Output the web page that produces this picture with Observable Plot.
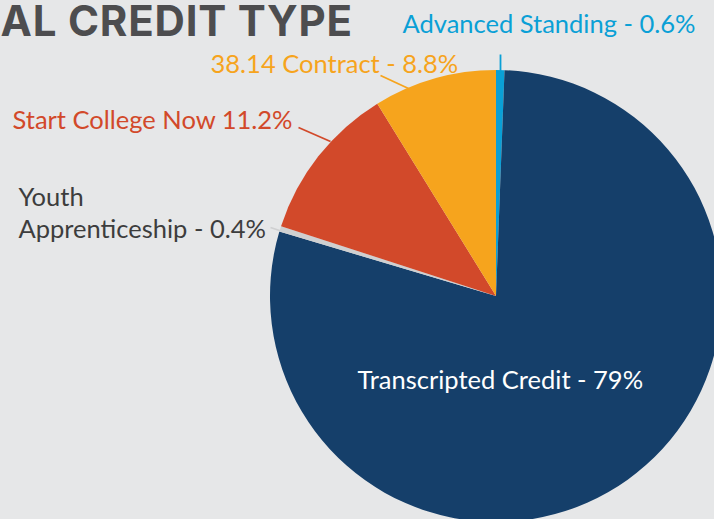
<!DOCTYPE html>
<html><head><meta charset="utf-8">
<script src="https://cdn.jsdelivr.net/npm/d3@7"></script>
<script src="https://cdn.jsdelivr.net/npm/@observablehq/plot@0.6"></script>
<style>html,body{margin:0;padding:0;background:#e6e7e8;overflow:hidden}</style>
</head><body><div id="chart"></div>
<script>
// ---- data ----
const categories = ["Advanced Standing", "Transcripted Credit", "Youth Apprenticeship", "Start College Now", "38.14 Contract"];
const shares = [0.6, 79, 0.4, 11.2, 8.8];
const labelTexts = ["Advanced Standing - 0.6%", "Transcripted Credit - 79%", "Youth\nApprenticeship - 0.4%", "Start College Now 11.2%", "38.14 Contract - 8.8%"];
const titleText = "AL CREDIT TYPE";

// ---- style / layout ----
const sliceColors = ["#0aa0d6", "#153f6a", "#cfd0d1", "#d2492a", "#f6a41d"];
const labelColors = ["#0aa0d6", "#ffffff", "#3d3d3d", "#d2492a", "#f6a41d"];
const W = 714, H = 519;
const center = [496, 296], radius = 226;
const labelPos = [[402, 32], [357, 388], [18, 237], [12, 128], [210, 72]];
const leaderPos = [[500, 54, 500, 71], null, [270, 227, 282, 231], [298, 127, 330, 141], [380, 75, 408, 88]];
const FONT = "Lato, 'Open Sans', sans-serif";

const arcs = d3.pie().sort(null).value(d => d)(shares);
const arcGen = d3.arc().innerRadius(0).outerRadius(radius);

const labels = categories.map((c, i) => ({cat: c, text: labelTexts[i], x: labelPos[i][0], y: labelPos[i][1], color: labelColors[i]}));
const leaders = categories.map((c, i) => leaderPos[i] && ({cat: c, x1: leaderPos[i][0], y1: leaderPos[i][1], x2: leaderPos[i][2], y2: leaderPos[i][3], color: sliceColors[i]})).filter(Boolean);

const pieMark = (index, scales) => {
  const g = d3.create("svg:g")
    .attr("transform", `translate(${scales.x(center[0])},${scales.y(center[1])})`);
  g.selectAll("path").data(arcs).join("path")
    .attr("d", arcGen)
    .attr("fill", d => sliceColors[d.index]);
  return g.node();
};

const chart = Plot.plot({
  width: W, height: H,
  margin: 0,
  style: {background: "#e6e7e8"},
  x: {domain: [0, W], range: [0, W], axis: null},
  y: {domain: [0, H], range: [0, H], axis: null},
  marks: [
    pieMark,
    Plot.link(leaders, {x1: "x1", y1: "y1", x2: "x2", y2: "y2", stroke: "color", strokeWidth: 1.8}),
    Plot.text(labels, {x: "x", y: "y", text: "text", fill: "color", textAnchor: "start", lineAnchor: "bottom", lineHeight: 1.25, fontSize: 25.5, fontFamily: FONT}),
    Plot.text([titleText], {x: () => 0, y: () => 35, text: d => d, fill: "#4d4d4f", textAnchor: "start", lineAnchor: "bottom", fontSize: 42, fontWeight: 700, fontFamily: "Inter, Roboto, sans-serif"})
  ]
});
d3.select(chart).selectAll("text").filter(function() { return this.textContent === titleText; }).style("letter-spacing", "0.8px");
document.getElementById("chart").appendChild(chart);
</script>
</body></html>
